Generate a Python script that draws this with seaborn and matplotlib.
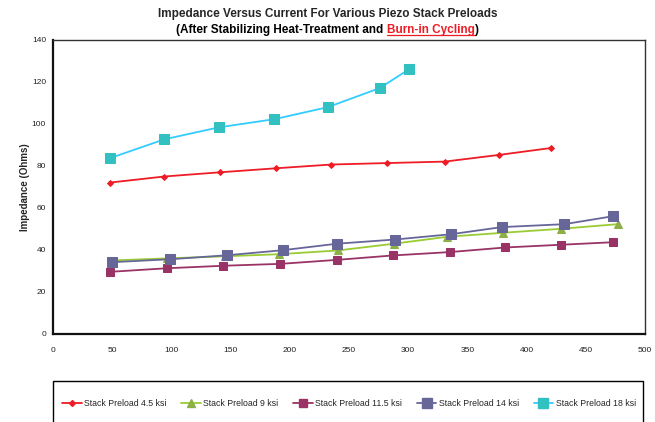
"""
Impedance versus current for several piezo stack preloads.
"""
import matplotlib
matplotlib.use("Agg")
import matplotlib.pyplot as plt
from matplotlib.lines import Line2D
from matplotlib.patches import Rectangle
import seaborn as sns
import pandas as pd

# Data
current_45 = [48, 94, 141, 188, 235, 282, 331, 377, 421]
imped_45 = [72.1, 75.0, 77.0, 78.9, 80.7, 81.4, 82.1, 85.3, 88.6]

current_9 = [49, 96, 145, 191, 241, 288, 333, 380, 429, 477]
imped_9 = [35.0, 36.0, 37.0, 38.0, 39.8, 43.0, 46.3, 48.2, 50.1, 52.3]

current_115 = [48, 96, 144, 192, 240, 287, 335, 382, 429, 473]
imped_115 = [29.6, 31.3, 32.5, 33.4, 35.3, 37.4, 39.0, 41.2, 42.5, 43.7]

current_14 = [50, 99, 147, 194, 240, 289, 336, 379, 432, 473]
imped_14 = [34.2, 35.6, 37.5, 39.9, 43.0, 45.0, 47.5, 50.9, 52.3, 56.1]

current_18 = [48, 94, 140, 187, 232, 276, 301]
imped_18 = [83.7, 92.7, 98.4, 102.3, 108.0, 117.1, 126.2]

series_names = ["Stack Preload 4.5 ksi", "Stack Preload 9 ksi",
                "Stack Preload 11.5 ksi", "Stack Preload 14 ksi",
                "Stack Preload 18 ksi"]

x_ticks = list(range(0, 501, 50))
y_ticks = list(range(0, 141, 20))

sns.set_style("white")
plt.rcParams["font.family"] = ["Liberation Sans", "DejaVu Sans"]

W, H = 655, 422
fig = plt.figure(figsize=(W / 100, H / 100), dpi=100)
ax = fig.add_axes([53 / W, 1 - 334 / H, 592 / W, 294 / H])

styles = [
    # line colour, marker, marker size, marker colour
    ("#ee1c25", "D", 3.0, "#ee1c25"),
    ("#99cc33", "^", 6.0, "#8db046"),
    ("#993366", "s", 5.5, "#993366"),
    ("#666699", "s", 7.5, "#666699"),
    ("#33ccff", "s", 7.5, "#33c0c0"),
]
all_x = [current_45, current_9, current_115, current_14, current_18]
all_y = [imped_45, imped_9, imped_115, imped_14, imped_18]

handles = []
for name, xs, ys, (lc, mk, ms, mc) in zip(series_names, all_x, all_y, styles):
    df = pd.DataFrame({"current": xs, "impedance": ys})
    sns.lineplot(data=df, x="current", y="impedance", ax=ax, color=lc,
                 linewidth=1.3, marker=mk, markersize=ms,
                 markerfacecolor=mc, markeredgecolor=mc, legend=False)
    handles.append(Line2D([], [], color=lc, linewidth=1.3, marker=mk,
                          markersize=ms, markerfacecolor=mc,
                          markeredgecolor=mc, label=name))

ax.set_xlim(0, 500)
ax.set_ylim(0, 140)
ax.set_xticks(x_ticks)
ax.set_yticks(y_ticks)
ax.tick_params(axis="both", labelsize=6, direction="out", length=3,
               width=0.8, color="#222222", pad=2, labelcolor="#222222")
ax.tick_params(axis="x", pad=6)
ax.set_xlabel("")
ax.set_ylabel("Impedance (Ohms)", fontsize=7, fontweight="bold", labelpad=1)
for side in ["left", "bottom"]:
    ax.spines[side].set_color("#111111")
    ax.spines[side].set_linewidth(1.6)
for side in ["top", "right"]:
    ax.spines[side].set_color("#333333")
    ax.spines[side].set_linewidth(1.0)

# Title, the second line has a red underlined part
fig.text(0.5, 1 - 14 / H, "Impedance Versus Current For Various Piezo Stack Preloads",
         ha="center", va="center", fontsize=8.5, fontweight="bold")

renderer = fig.canvas.get_renderer()
parts = [("(After Stabilizing Heat-Treatment and ", "black"),
         ("Burn-in Cycling", "#ee1c25"),
         (")", "black")]
y2 = 1 - 30 / H
texts = []
widths = []
for s, c in parts:
    t = fig.text(0, y2, s, ha="left", va="center", fontsize=8.5,
                 fontweight="bold", color=c)
    texts.append(t)
    widths.append(t.get_window_extent(renderer).width)
x_pos = (W - sum(widths)) / 2 / W
for t, w in zip(texts, widths):
    t.set_x(x_pos)
    x_pos += w / W

red_box = texts[1].get_window_extent(renderer)
fig.add_artist(Line2D([red_box.x0 / W, red_box.x1 / W],
                      [(red_box.y0 + 1) / H] * 2,
                      color="#ee1c25", linewidth=0.9))

# legend box runs off the bottom edge of the image
fig.add_artist(Rectangle((53 / W, -4 / H), 590 / W, (H - 381 + 4) / H,
                         transform=fig.transFigure, fill=False,
                         edgecolor="black", linewidth=1.0))
leg = fig.legend(handles=handles, loc="center",
                 bbox_to_anchor=(349 / W, 1 - 404 / H),
                 ncol=5, fontsize=6.3, frameon=False,
                 handlelength=2.2, handletextpad=0.3,
                 columnspacing=1.7, borderaxespad=0)

fig.savefig("out.png", dpi=100)
